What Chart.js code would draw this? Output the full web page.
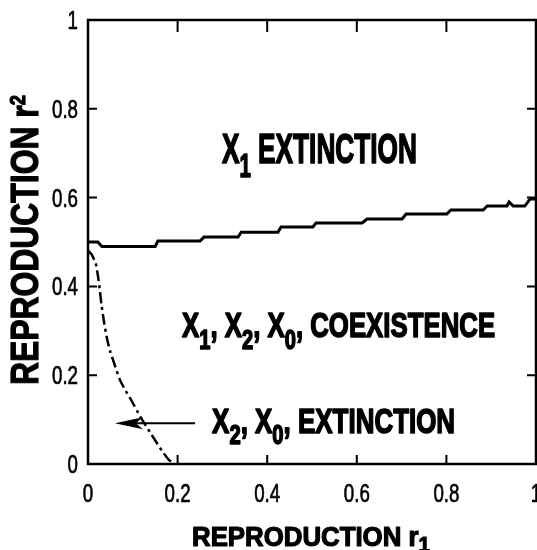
<!DOCTYPE html>
<html>
<head>
<meta charset="utf-8">
<script src="https://cdn.jsdelivr.net/npm/chart.js@4/dist/chart.umd.min.js"></script>
<style>
  html, body { margin: 0; padding: 0; background: #fff; }
  #wrap { width: 537px; height: 550px; position: relative; }
</style>
</head>
<body>
<div id="wrap"><canvas id="chart"></canvas></div>
<script>
/* ===== DATA ===== */

// solid boundary: X1 extinction above / coexistence below
const boundaryR1 = [0, 0.022, 0.031, 0.150, 0.156, 0.250, 0.259, 0.335, 0.342, 0.424, 0.431, 0.502, 0.509, 0.612, 0.623, 0.701, 0.710, 0.801, 0.810, 0.882, 0.891, 0.935, 0.940, 0.949, 0.975, 0.987, 1.0];
const boundaryR2 = [0.500, 0.500, 0.490, 0.490, 0.502, 0.502, 0.511, 0.511, 0.522, 0.522, 0.534, 0.534, 0.543, 0.543, 0.552, 0.552, 0.563, 0.563, 0.572, 0.572, 0.581, 0.581, 0.590, 0.581, 0.581, 0.597, 0.597];

// dash-dot boundary: X2, X0 extinction below
const extinctR1 = [0, 0.008, 0.017, 0.022, 0.026, 0.030, 0.036, 0.043, 0.050, 0.058, 0.071, 0.084, 0.097, 0.116, 0.138, 0.152, 0.165, 0.180, 0.193];
const extinctR2 = [0.480, 0.472, 0.452, 0.425, 0.395, 0.360, 0.318, 0.280, 0.252, 0.228, 0.190, 0.165, 0.143, 0.108, 0.072, 0.050, 0.030, 0.010, 0];

// arrow from label to the extinction region (tail, end of shaft)
const arrowR1 = [0.239, 0.075];
const arrowR2 = [0.092, 0.092];
const arrowTip = { r1: 0.060, r2: 0.092 };

const xTicks = [0, 0.2, 0.4, 0.6, 0.8, 1];
const yTicks = [0, 0.2, 0.4, 0.6, 0.8, 1];

// "_" marks the next character as a subscript
const xTitle = 'REPRODUCTION r_1';
const yTitle = 'REPRODUCTION r_2';
const regionLabels = ['X_1 EXTINCTION', 'X_1, X_2, X_0, COEXISTENCE', 'X_2, X_0, EXTINCTION'];

/* ===== LAYOUT / STYLE ===== */

const FAMILY = "'Liberation Sans', Arial, sans-serif";

// region labels placed in data coords (left edge, baseline), size in px, width in px
const labelPlacement = [
  { r1: 0.299, r2: 0.678, size: 42, width: 195 },
  { r1: 0.210, r2: 0.286, size: 35, width: 313 },
  { r1: 0.277, r2: 0.070, size: 35, width: 243 }
];

function toPoints(xs, ys) {
  return xs.map((x, i) => ({ x, y: ys[i] }));
}

// draw text with "_x" subscripts, squeezed to a given width (or by a factor)
function drawRich(ctx, str, x, y, size, width, opts = {}) {
  const weight = opts.weight || 'bold';
  const parts = [];
  for (let i = 0; i < str.length; i++) {
    if (str[i] === '_') { parts.push({ t: str[i + 1], sub: true }); i++; }
    else if (parts.length && !parts[parts.length - 1].sub) parts[parts.length - 1].t += str[i];
    else parts.push({ t: str[i], sub: false });
  }
  const subSize = size * (opts.subScale || 0.78);
  const subShift = opts.subShift !== undefined ? opts.subShift : size * 0.33;
  let natural = 0;
  parts.forEach(p => {
    ctx.font = `${weight} ${p.sub ? subSize : size}px ${FAMILY}`;
    p.w = ctx.measureText(p.t).width;
    natural += p.w;
  });
  const sx = width ? width / natural : (opts.squeeze || 1);
  let ox = 0;
  if (opts.align === 'right') ox = -natural;
  if (opts.align === 'center') ox = -natural / 2;
  ctx.save();
  ctx.translate(x, y);
  ctx.scale(sx, 1);
  ctx.fillStyle = '#000';
  ctx.strokeStyle = '#000';
  ctx.lineJoin = 'round';
  ctx.lineWidth = opts.stroke || 0;
  ctx.textBaseline = 'alphabetic';
  ctx.textAlign = 'left';
  let cx = ox;
  parts.forEach(p => {
    ctx.font = `${weight} ${p.sub ? subSize : size}px ${FAMILY}`;
    const ty = p.sub ? subShift : 0;
    ctx.fillText(p.t, cx, ty);
    if (opts.stroke) ctx.strokeText(p.t, cx, ty);
    cx += p.w;
  });
  ctx.restore();
}

/* ===== PLUGINS ===== */

// box frame with inward ticks on all four sides, plus condensed tick labels
const framePlugin = {
  id: 'frame',
  afterDatasetsDraw(chart) {
    const { ctx, chartArea: a, scales: { x, y } } = chart;
    const len = 9;
    ctx.save();
    ctx.strokeStyle = '#000';
    ctx.lineWidth = 2.5;
    ctx.strokeRect(a.left, a.top, a.right - a.left, a.bottom - a.top);
    ctx.lineWidth = 2;
    ctx.beginPath();
    x.ticks.forEach(t => {
      const px = x.getPixelForValue(t.value);
      ctx.moveTo(px, a.bottom); ctx.lineTo(px, a.bottom - len);
      ctx.moveTo(px, a.top); ctx.lineTo(px, a.top + len + 3);
    });
    y.ticks.forEach(t => {
      const py = y.getPixelForValue(t.value);
      ctx.moveTo(a.left, py); ctx.lineTo(a.left + len, py);
      ctx.moveTo(a.right, py); ctx.lineTo(a.right - len, py);
    });
    ctx.stroke();
    ctx.restore();

    // tick labels
    const tickOpts = { weight: 'normal', squeeze: 0.72, stroke: 0.7 };
    x.ticks.forEach(t => {
      drawRich(ctx, String(t.value), x.getPixelForValue(t.value), a.bottom + 38, 26, 0, { ...tickOpts, align: 'center' });
    });
    y.ticks.forEach(t => {
      drawRich(ctx, String(t.value), a.left - 10, y.getPixelForValue(t.value) + 9, 26, 0, { ...tickOpts, align: 'right' });
    });
  }
};

// arrow head, region labels and axis titles
const textPlugin = {
  id: 'texts',
  afterDraw(chart) {
    const { ctx, scales: { x, y } } = chart;

    // arrow head
    const tx = x.getPixelForValue(arrowTip.r1);
    const ty = y.getPixelForValue(arrowTip.r2);
    ctx.save();
    ctx.fillStyle = '#000';
    ctx.beginPath();
    ctx.moveTo(tx, ty);
    ctx.lineTo(tx + 28, ty - 6);
    ctx.lineTo(tx + 21, ty);
    ctx.lineTo(tx + 28, ty + 6);
    ctx.closePath();
    ctx.fill();
    ctx.restore();

    regionLabels.forEach((txt, i) => {
      const p = labelPlacement[i];
      drawRich(ctx, txt, x.getPixelForValue(p.r1), y.getPixelForValue(p.r2), p.size, p.width, { stroke: 1.6 });
    });

    // x title, centred under the plot
    drawRich(ctx, xTitle, 192, 546, 27, 238, { stroke: 1.2, subScale: 0.8, subShift: 6 });

    // y title, rotated (its index sits high, as in the source figure)
    ctx.save();
    ctx.translate(38, 385);
    ctx.rotate(-Math.PI / 2);
    drawRich(ctx, yTitle, 0, 0, 38, 290, { stroke: 1.2, subScale: 0.58, subShift: -13 });
    ctx.restore();
  }
};

/* ===== CHART ===== */

new Chart(document.getElementById('chart'), {
  type: 'line',
  data: {
    datasets: [
      { label: 'Coexistence boundary', data: toPoints(boundaryR1, boundaryR2), borderColor: '#000', borderWidth: 3, pointRadius: 0, fill: false, tension: 0 },
      { label: 'Extinction boundary', data: toPoints(extinctR1, extinctR2), borderColor: '#000', borderWidth: 2.5, borderDash: [11, 4, 3, 4], pointRadius: 0, fill: false, tension: 0.2 },
      { label: 'Arrow', data: toPoints(arrowR1, arrowR2), borderColor: '#000', borderWidth: 2, pointRadius: 0, fill: false }
    ]
  },
  options: {
    responsive: true,
    maintainAspectRatio: false,
    animation: false,
    layout: { padding: { top: 20, right: 1, left: 0, bottom: 0 } },
    plugins: { legend: { display: false }, tooltip: { enabled: false } },
    scales: {
      x: {
        type: 'linear', min: 0, max: 1,
        afterBuildTicks: s => { s.ticks = xTicks.map(v => ({ value: v })); },
        grid: { display: false, drawTicks: false },
        border: { display: false },
        ticks: { display: false },
        afterFit: s => { s.height = 86; s.paddingLeft = 0; s.paddingRight = 0; }
      },
      y: {
        type: 'linear', min: 0, max: 1,
        afterBuildTicks: s => { s.ticks = yTicks.map(v => ({ value: v })); },
        grid: { display: false, drawTicks: false },
        border: { display: false },
        ticks: { display: false },
        afterFit: s => { s.width = 88; s.paddingTop = 0; s.paddingBottom = 0; }
      }
    }
  },
  plugins: [framePlugin, textPlugin]
});
</script>
</body>
</html>
